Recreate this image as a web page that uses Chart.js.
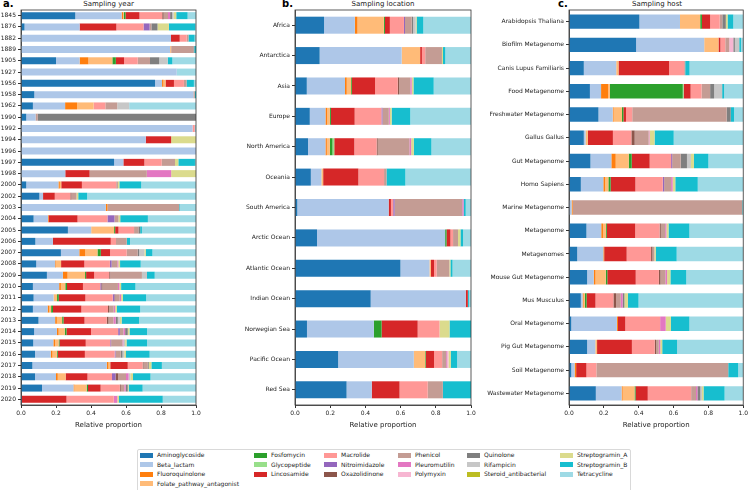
<!DOCTYPE html>
<html>
<head>
<meta charset="utf-8">
<script src="https://cdn.jsdelivr.net/npm/chart.js@4.4.1/dist/chart.umd.min.js"></script>
<style>
    body { margin: 0; background: #fff; width: 750px; height: 490px; position: relative; overflow: hidden; font-family: "DejaVu Sans", sans-serif; }
    .panel { position: absolute; top: 0; height: 435px; }
    .tag { position: absolute; top: -2px; font-weight: bold; font-size: 10px; color: #000; }
    .ttl { position: absolute; top: 0; font-size: 7px; color: #222; text-align: center; line-height: 9px; }
    #legend { position: absolute; left: 137px; top: 449px; width: 492px; height: 42px; border: 1px solid #d9d9d9; border-radius: 2px; background: #fff; }
    .li { position: absolute; font-size: 6px; color: #222; line-height: 8px; white-space: nowrap; }
    .li i { position: absolute; left: -17px; top: 1.5px; width: 13px; height: 5px; }
</style>
</head>
<body>

<div class="tag" style="left:3px">a.</div>
<div class="ttl" style="left:21px;width:175px">Sampling year</div>
<div class="tag" style="left:282px">b.</div>
<div class="ttl" style="left:295px;width:176px">Sampling location</div>
<div class="tag" style="left:558px">c.</div>
<div class="ttl" style="left:569px;width:176px">Sampling host</div>

<div class="panel" style="left:0;width:206px"><canvas id="chartYear"></canvas></div>
<div class="panel" style="left:230px;width:251px"><canvas id="chartLocation"></canvas></div>
<div class="panel" style="left:480px;width:270px"><canvas id="chartHost"></canvas></div>

<div id="legend"></div>

<script>
(function () {
    'use strict';

    // ------------------------------------------------------------------
    // Antibiotic classes (stack order) and their colours
    // ------------------------------------------------------------------
    var CLASSES = ['Aminoglycoside', 'Beta_lactam', 'Fluoroquinolone', 'Folate_pathway_antagonist',
        'Fosfomycin', 'Glycopeptide', 'Lincosamide', 'Macrolide', 'Nitroimidazole', 'Oxazolidinone',
        'Phenicol', 'Pleuromutilin', 'Polymyxin', 'Quinolone', 'Rifampicin', 'Steroid_antibacterial',
        'Streptogramin_A', 'Streptogramin_B', 'Tetracycline'];

    var COLORS = ['#1f77b4', '#aec7e8', '#ff7f0e', '#ffbb78', '#2ca02c', '#98df8a', '#d62728', '#ff9896',
        '#9467bd', '#8c564b', '#c49c94', '#e377c2', '#f7b6d2', '#7f7f7f', '#c7c7c7', '#bcbd22',
        '#dbdb8d', '#17becf', '#9edae5'];

    // ------------------------------------------------------------------
    // a. Sampling year — one row per year, values in CLASSES order
    // ------------------------------------------------------------------
    var years = ['1845', '1876', '1882', '1889', '1905', '1927', '1956', '1958', '1962', '1990', '1992',
        '1994', '1996', '1997', '1998', '2000', '2002', '2003', '2004', '2005', '2006', '2007', '2008',
        '2009', '2010', '2011', '2012', '2013', '2014', '2015', '2016', '2017', '2018', '2019', '2020'];

    var yearShares = [
        [.31, .265, .008, .004, .01, 0, .08, .13, 0, .008, .025, .012, 0, .012, .008, 0, .015, .065, .048],
        [.02, .315, 0, 0, 0, 0, .21, .155, .035, 0, .01, 0, 0, .035, 0, 0, .065, .15, .005],
        [0, .857, 0, 0, 0, 0, .05, .04, 0, 0, .01, 0, 0, 0, 0, 0, 0, .035, .008],
        [0, .852, 0, .006, 0, 0, 0, 0, 0, 0, .127, 0, 0, .005, 0, 0, 0, .01, 0],
        [.2, .135, .05, .137, .02, 0, .047, .078, 0, 0, .07, 0, 0, .053, .048, 0, 0, .027, .135],
        [0, .89, 0, 0, 0, 0, 0, 0, 0, 0, 0, 0, 0, 0, 0, 0, 0, 0, .11],
        [.766, .04, .008, .012, 0, 0, .048, .057, 0, 0, .015, 0, 0, 0, 0, 0, 0, .042, .012],
        [.076, .909, 0, 0, 0, 0, 0, 0, 0, 0, .008, 0, 0, 0, 0, 0, 0, .007, 0],
        [.068, .184, .068, .095, 0, 0, 0, .067, 0, 0, .068, 0, 0, 0, .068, 0, 0, 0, .382],
        [.03, .053, 0, 0, 0, 0, 0, 0, 0, 0, .013, 0, 0, .904, 0, 0, 0, 0, 0],
        [0, .98, 0, 0, 0, 0, 0, .013, 0, 0, 0, 0, 0, 0, 0, 0, 0, 0, .007],
        [0, .713, 0, 0, 0, 0, .145, 0, 0, 0, 0, 0, 0, 0, 0, 0, .142, 0, 0],
        [0, 1, 0, 0, 0, 0, 0, 0, 0, 0, 0, 0, 0, 0, 0, 0, 0, 0, 0],
        [.532, .053, 0, 0, 0, 0, .12, .099, 0, 0, .076, 0, 0, 0, 0, 0, .019, .095, .006],
        [0, .253, 0, 0, 0, 0, .139, 0, 0, 0, .327, .139, 0, 0, 0, 0, .142, 0, 0],
        [.03, .184, .008, .008, 0, 0, .118, .196, 0, 0, .01, 0, 0, 0, 0, 0, .008, .125, .313],
        [.105, .021, 0, 0, 0, 0, .067, .089, 0, .006, .029, 0, 0, 0, 0, 0, .01, .051, .622],
        [.005, .479, .01, 0, 0, 0, 0, 0, 0, 0, .41, 0, 0, 0, 0, 0, 0, .004, .092],
        [.072, .082, .004, 0, 0, 0, .165, .171, .04, 0, .023, 0, 0, 0, 0, 0, .01, .158, .275],
        [.268, .133, 0, .131, .006, 0, .019, .089, 0, 0, .025, 0, 0, .01, 0, 0, 0, .01, .309],
        [.082, .1, 0, 0, 0, 0, .331, .03, 0, 0, .061, 0, 0, 0, 0, 0, 0, .019, .377],
        [.228, .105, .034, .07, .019, 0, .053, .095, 0, 0, .063, 0, 0, .008, .03, 0, .008, .038, .249],
        [.087, .108, .004, .03, 0, 0, .133, .146, .01, 0, .032, .006, 0, 0, 0, 0, .01, .118, .316],
        [.148, .091, .027, .1, .006, 0, .046, .086, 0, .006, .181, 0, 0, 0, .029, 0, 0, .044, .236],
        [.068, .15, .01, .025, .01, 0, .091, .099, .006, .006, .089, .008, 0, 0, 0, 0, .01, .082, .346],
        [.072, .114, 0, .02, .01, 0, .152, .156, .01, .005, .025, .008, 0, 0, 0, 0, .01, .133, .285],
        [.068, .084, .01, .01, .011, 0, .162, .152, 0, .006, .027, .008, 0, 0, 0, 0, .01, .133, .319],
        [.1, .095, .01, .03, .008, 0, .12, .127, 0, .01, .028, .013, 0, .012, .012, 0, .01, .1, .325],
        [.075, .13, .01, .035, .01, 0, .14, .155, .01, 0, .02, .01, 0, .015, 0, 0, .01, .1, .28],
        [.07, .115, .01, .02, .005, 0, .15, .14, .005, 0, .065, .005, 0, 0, .01, 0, .008, .117, .28],
        [.08, .09, .01, .025, .005, 0, .155, .17, .005, 0, .03, 0, 0, .01, .01, 0, .01, .135, .265],
        [.065, .425, .01, .01, 0, 0, .1, .085, 0, .005, .025, 0, 0, .005, 0, 0, .015, .06, .195],
        [.08, .12, .01, .045, 0, 0, .125, .14, .02, .015, .045, .015, 0, 0, .01, 0, .015, .1, .26],
        [.12, .18, .005, .07, .008, 0, .072, .11, 0, .005, .02, .008, 0, .012, 0, 0, .005, .08, .305],
        [.005, 0, 0, 0, 0, 0, .255, .27, 0, 0, 0, .02, 0, 0, 0, 0, .01, .25, .19]
    ];

    // ------------------------------------------------------------------
    // b. Sampling location
    // ------------------------------------------------------------------
    var locations = ['Africa', 'Antarctica', 'Asia', 'Europe', 'North America', 'Oceania', 'South America',
        'Arctic Ocean', 'Atlantic Ocean', 'Indian Ocean', 'Norwegian Sea', 'Pacific Ocean', 'Red Sea'];

    var locationShares = [
        [.165, .175, .015, .15, .006, 0, .028, .08, .006, 0, .038, 0, 0, .008, .015, 0, .005, .038, .271],
        [.14, .466, 0, .105, 0, 0, .01, .019, 0, 0, .095, 0, 0, 0, 0, 0, .006, .013, .146],
        [.067, .217, .01, .025, .005, 0, .131, .129, 0, .008, .063, .008, 0, 0, 0, 0, .01, .115, .212],
        [.084, .089, .01, .015, .006, 0, .135, .152, .006, 0, .036, .006, 0, 0, 0, 0, .01, .106, .345],
        [.074, .099, .008, .017, .015, .01, .114, .127, 0, .006, .18, .01, 0, 0, 0, 0, .015, .1, .224],
        [.09, .06, 0, .01, 0, 0, .2, .146, 0, 0, .014, 0, 0, 0, 0, 0, 0, .107, .373],
        [.013, .519, 0, 0, 0, 0, .013, .013, .008, 0, .384, .008, 0, 0, 0, 0, 0, .012, .03],
        [.125, .728, 0, 0, .008, 0, .022, .015, 0, 0, .028, 0, 0, 0, 0, 0, .014, .015, .045],
        [.599, .165, 0, .008, 0, 0, .018, .015, 0, 0, .072, 0, 0, 0, 0, 0, .006, .012, .105],
        [.43, .54, 0, 0, 0, 0, .012, 0, 0, 0, 0, 0, 0, 0, 0, 0, 0, .006, .012],
        [.068, .38, 0, 0, .044, 0, .205, .124, 0, 0, 0, 0, 0, 0, 0, 0, .057, .122, 0],
        [.245, .43, 0, .065, .004, 0, .046, .046, 0, 0, .023, .005, .008, 0, 0, 0, .013, .036, .079],
        [.293, .143, 0, 0, 0, 0, .158, .16, 0, 0, .086, 0, 0, 0, 0, 0, 0, .16, 0]
    ];

    // ------------------------------------------------------------------
    // c. Sampling host
    // ------------------------------------------------------------------
    var hosts = ['Arabidopsis Thaliana', 'Biofilm Metagenome', 'Canis Lupus Familiaris', 'Food Metagenome',
        'Freshwater Metagenome', 'Gallus Gallus', 'Gut Metagenome', 'Homo Sapiens', 'Marine Metagenome',
        'Metagenome', 'Metagenomes', 'Mouse Gut Metagenome', 'Mus Musculus', 'Oral Metagenome',
        'Pig Gut Metagenome', 'Soil Metagenome', 'Wastewater Metagenome'];

    var hostShares = [
        [.404, .233, 0, .116, .01, 0, .047, .055, 0, 0, .015, 0, 0, .02, 0, 0, .01, .033, .057],
        [.385, .391, 0, .082, 0, 0, .011, .028, 0, 0, .023, 0, .023, .009, .025, 0, 0, .01, .013],
        [.085, .186, 0, .013, 0, 0, .29, .087, 0, 0, .006, 0, 0, 0, 0, 0, 0, .025, .308],
        [.12, .064, .04, .011, .418, .005, .04, .063, 0, 0, .049, 0, 0, .023, .046, 0, 0, .011, .11],
        [.169, .082, .005, .048, .008, 0, .015, .036, 0, 0, .542, 0, 0, .023, 0, 0, 0, .019, .053],
        [.085, .01, 0, .013, 0, 0, .144, .106, 0, .019, .08, .005, 0, 0, 0, 0, .029, .11, .399],
        [.123, .12, .025, .075, .017, 0, .103, .123, .006, 0, .049, 0, 0, .036, .023, 0, .017, .083, .2],
        [.068, .129, .01, .019, .013, 0, .142, .157, .008, 0, .04, .009, 0, 0, 0, 0, .015, .129, .261],
        [.003, .012, .006, 0, 0, 0, 0, 0, 0, 0, .974, 0, 0, 0, 0, 0, 0, .005, 0],
        [.1, .085, .01, .017, .005, 0, .163, .14, 0, .007, .025, .007, 0, 0, 0, 0, .012, .12, .309],
        [.047, .15, .005, 0, 0, 0, .129, .14, 0, .008, .011, 0, 0, 0, 0, 0, .008, .12, .382],
        [.104, .038, .01, .059, .009, 0, .163, .133, 0, .009, .028, .01, 0, 0, 0, 0, .019, .091, .327],
        [.068, .01, .006, .007, .01, 0, .051, .103, 0, .015, .027, .011, 0, .01, 0, 0, .02, .061, .601],
        [.013, .262, .006, 0, 0, 0, .042, .2, 0, 0, 0, .032, 0, 0, 0, 0, .03, .106, .309],
        [.104, .047, 0, .01, 0, 0, .2, .131, 0, .008, .015, .009, 0, 0, 0, 0, .011, .085, .38],
        [.013, .019, .009, 0, 0, 0, .059, .057, 0, 0, .757, 0, 0, 0, 0, 0, 0, .057, .029],
        [.154, .148, .006, .068, .006, 0, .07, .249, 0, 0, .028, .008, 0, .017, .009, 0, .009, .121, .107]
    ];

    // ------------------------------------------------------------------
    // Plot frame (matplotlib-style spines on all four sides)
    // ------------------------------------------------------------------
    var framePlugin = {
        id: 'frame',
        afterDraw: function (chart) {
            var a = chart.chartArea, c = chart.ctx;
            c.save();
            c.strokeStyle = '#333';
            c.lineWidth = 0.8;
            c.strokeRect(a.left, a.top, a.right - a.left, a.bottom - a.top);
            c.restore();
        }
    };

    function renderStack(canvasId, labels, rows, yWidth, padRight, barPct) {
        var datasets = CLASSES.map(function (name, i) {
            return {
                label: name,
                data: rows.map(function (r) { return r[i]; }),
                backgroundColor: COLORS[i],
                borderWidth: 0,
                barPercentage: barPct,
                categoryPercentage: 1
            };
        });

        new Chart(document.getElementById(canvasId), {
            type: 'bar',
            data: { labels: labels, datasets: datasets },
            options: {
                indexAxis: 'y',
                responsive: true,
                maintainAspectRatio: false,
                animation: false,
                layout: { padding: { top: 10, right: padRight, left: 0, bottom: 0 } },
                plugins: { legend: { display: false }, tooltip: { enabled: false } },
                scales: {
                    x: {
                        stacked: true,
                        min: 0,
                        max: 1,
                        ticks: {
                            stepSize: 0.2,
                            color: '#222',
                            padding: 2,
                            font: { size: 6, family: '"DejaVu Sans"' },
                            callback: function (v) { return Number(v).toFixed(1); }
                        },
                        grid: { drawOnChartArea: false, tickLength: 3, color: '#333' },
                        border: { color: '#333', width: 0.8 },
                        title: {
                            display: true,
                            text: 'Relative proportion',
                            color: '#222',
                            font: { size: 7, family: '"DejaVu Sans"' },
                            padding: { top: 0, bottom: 6 }
                        },
                        afterFit: function (s) { s.height = 30; }
                    },
                    y: {
                        stacked: true,
                        ticks: {
                            autoSkip: false,
                            color: '#222',
                            padding: 2,
                            font: { size: 6, family: '"DejaVu Sans"' }
                        },
                        grid: { drawOnChartArea: false, offset: false, tickLength: 3, color: '#333' },
                        border: { color: '#333', width: 0.8 },
                        afterFit: function (s) { s.width = yWidth; }
                    }
                }
            },
            plugins: [framePlugin]
        });
    }

    renderStack('chartYear', years, yearShares, 21, 10, 0.62);
    renderStack('chartLocation', locations, locationShares, 65, 10, 0.56);
    renderStack('chartHost', hosts, hostShares, 89, 5, 0.62);

    // ------------------------------------------------------------------
    // Shared legend (6 columns, column-major like matplotlib ncol)
    // ------------------------------------------------------------------
    var legendCols = [[0, 1, 2, 3], [4, 5, 6], [7, 8, 9], [10, 11, 12], [13, 14, 15], [16, 17, 18]];
    var colX = [19, 133, 203, 277, 346, 439];
    var html = '';
    legendCols.forEach(function (col, ci) {
        col.forEach(function (k, ri) {
            html += '<div class="li" style="left:' + colX[ci] + 'px;top:' + (1 + ri * 9.5) + 'px">'
                + '<i style="background:' + COLORS[k] + '"></i>' + CLASSES[k] + '</div>';
        });
    });
    document.getElementById('legend').innerHTML = html;
})();
</script>
</body>
</html>
